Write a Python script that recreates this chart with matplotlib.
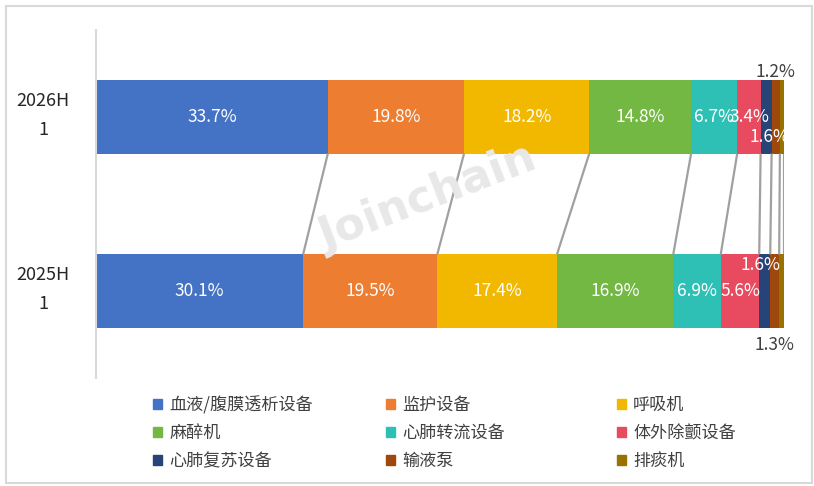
import matplotlib.pyplot as plt
from matplotlib.patches import Rectangle
import numpy as np

plt.rcParams['font.family'] = ['Noto Sans CJK SC', 'DejaVu Sans']

periods = ['2025H\n1', '2026H\n1']
categories = ['血液/腹膜透析设备', '监护设备', '呼吸机', '麻醉机', '心肺转流设备',
              '体外除颤设备', '心肺复苏设备', '输液泵', '排痰机']
share_2025 = [30.1, 19.5, 17.4, 16.9, 6.9, 5.6, 1.6, 1.3, 0.7]
share_2026 = [33.7, 19.8, 18.2, 14.8, 6.7, 3.4, 1.6, 1.2, 0.6]
colors = ['#4472C4', '#ED7D31', '#F2B800', '#72B843', '#2EC0B4',
          '#E84A5F', '#264478', '#9E480E', '#997300']

fig = plt.figure(figsize=(8.14, 4.86), dpi=100)
ax = fig.add_axes([96 / 814, 108 / 486, 688 / 814, 348 / 486])

bar_h = 0.42
data = [share_2025, share_2026]
for yi, vals in enumerate(data):
    left = 0
    for v, c in zip(vals, colors):
        ax.barh(yi, v, left=left, height=bar_h, color=c, linewidth=0)
        left += v

# connector lines between segment boundaries
cum25 = np.cumsum(share_2025)
cum26 = np.cumsum(share_2026)
for a, b in zip(cum26, cum25):
    ax.plot([a, b], [1 - bar_h / 2, bar_h / 2], color='#A0A0A0', lw=1.6,
            solid_capstyle='butt', zorder=1)

# data labels
lab_fs = 12.5
for yi, vals in enumerate(data):
    starts = np.concatenate([[0], np.cumsum(vals)[:-1]])
    for i, (s, v) in enumerate(zip(starts, vals)):
        if i >= 6:
            continue
        ax.text(s + v / 2, yi, f'{v:.1f}%', color='white', fontsize=lab_fs,
                ha='center', va='center')

# small-segment labels
s26 = np.concatenate([[0], cum26[:-1]])
s25 = np.concatenate([[0], cum25[:-1]])
ax.text(s26[6] + share_2026[6] / 2 + 0.5, 1 - 0.115, f'{share_2026[6]:.1f}%', color='white',
        fontsize=lab_fs, ha='center', va='center')
ax.text(s26[7] + share_2026[7] / 2, 1 + 0.26, f'{share_2026[7]:.1f}%', color='#404040',
        fontsize=lab_fs, ha='center', va='center')
ax.text(s25[6] + share_2025[6] / 2 - 0.6, 0 + 0.15, f'{share_2025[6]:.1f}%', color='white',
        fontsize=lab_fs, ha='center', va='center')
ax.text(s25[7] + share_2025[7] / 2, 0 - 0.31, f'{share_2025[7]:.1f}%', color='#404040',
        fontsize=lab_fs, ha='center', va='center')

ax.set_xlim(0, 100)
ax.set_ylim(-0.5, 1.5)
ax.set_xticks([])
ax.set_yticks([])
for yi, p in enumerate(periods):
    ax.text((43 - 96) / 688, yi + 0.01, p, transform=ax.get_yaxis_transform(),
            fontsize=13, color='#262626', ha='center', va='center', linespacing=1.75)
for side in ['top', 'right', 'bottom']:
    ax.spines[side].set_visible(False)
ax.spines['left'].set_color('#D9D9D9')
ax.spines['left'].set_linewidth(1.5)

# watermark
fig.text(428 / 814, 1 - 198 / 486, 'Joinchain', fontsize=32, fontweight='bold',
         color='#E8E8E8', rotation=21, ha='center', va='center', zorder=0,
         family=['DejaVu Sans'])

# legend: three columns
handles = [Rectangle((0, 0), 1, 1, color=c) for c in colors]
col_x = [153, 386, 617]
for j in range(3):
    idx = [j, j + 3, j + 6]
    leg = fig.legend([handles[i] for i in idx], [categories[i] for i in idx],
                     loc='center left', bbox_to_anchor=(col_x[j] / 814, 1 - 433 / 486),
                     frameon=False, fontsize=12.3, handlelength=0.55, handleheight=0.55,
                     handletextpad=0.4, labelspacing=0.58, borderaxespad=0, borderpad=0)
    for t in leg.get_texts():
        t.set_color('#404040')

# figure border
fig.patches.append(Rectangle((6 / 814, 3 / 486), 806 / 814, 477 / 486,
                             transform=fig.transFigure, fill=False,
                             edgecolor='#D9D9D9', linewidth=1.5))

fig.savefig('out.png', dpi=100)
